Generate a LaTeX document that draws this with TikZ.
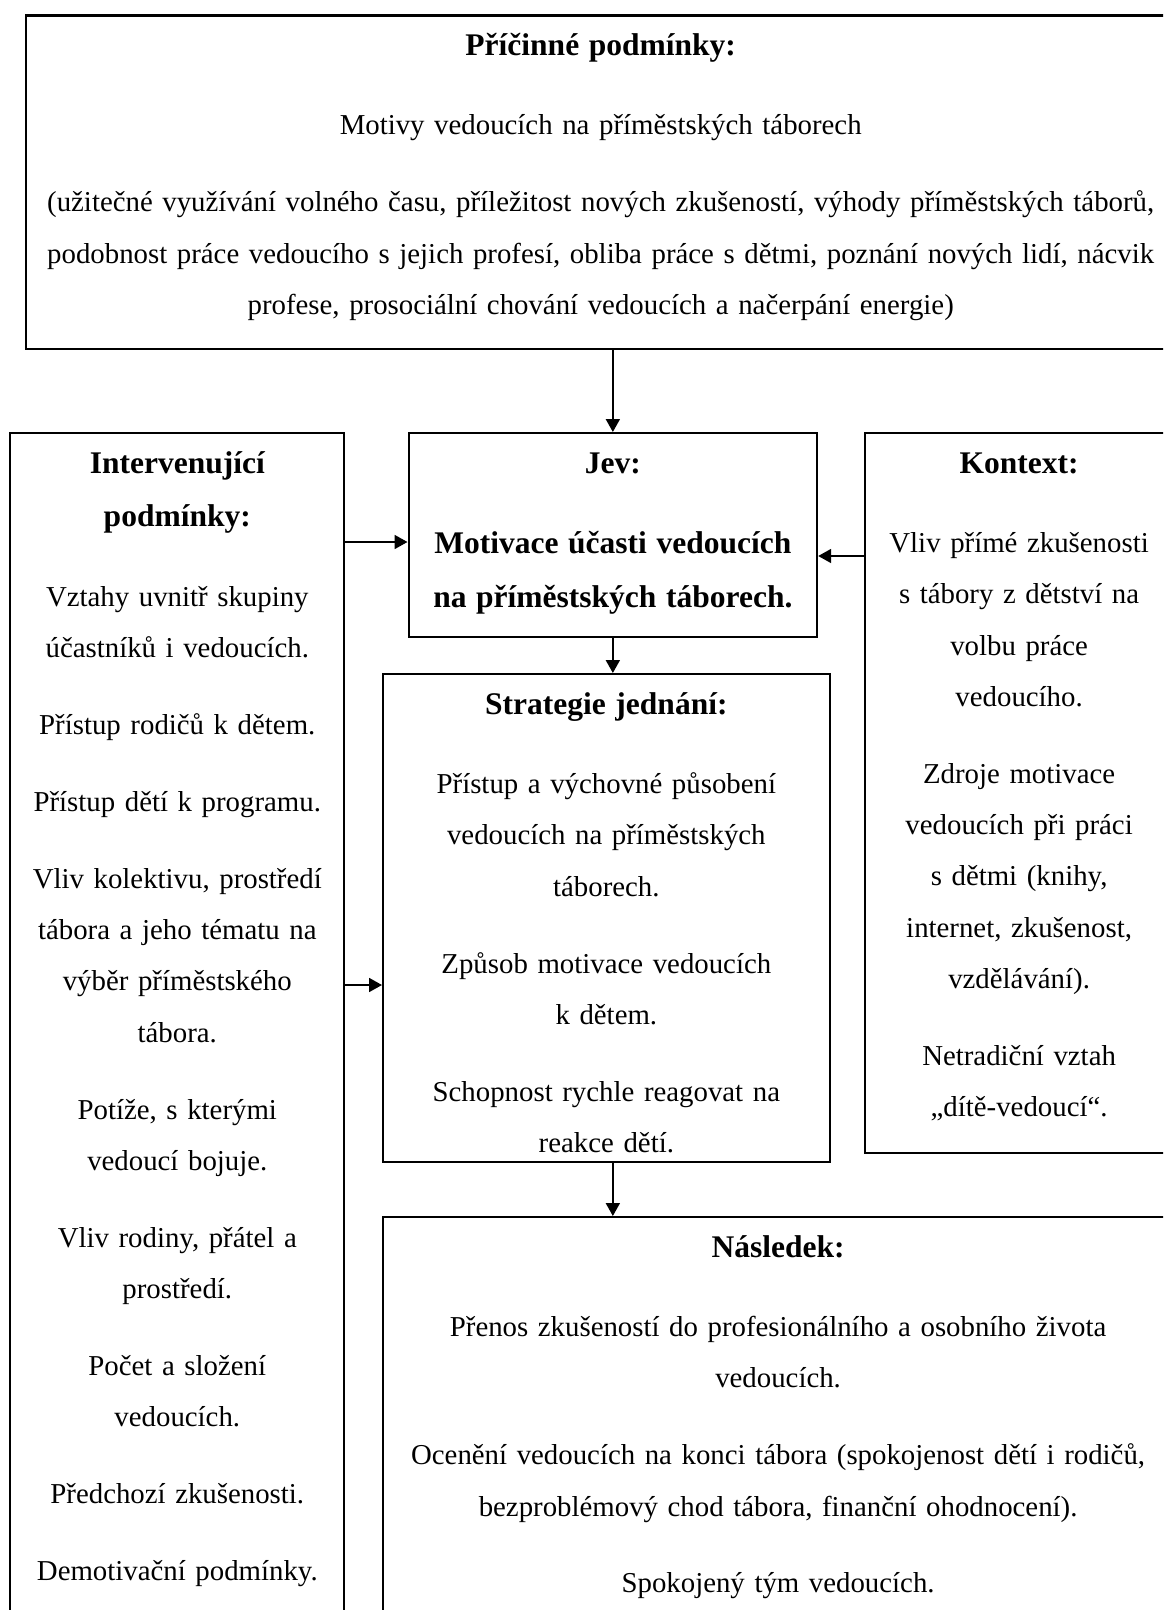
\documentclass[tikz,border=0pt]{standalone}
\usepackage{fontspec}
\setmainfont{Liberation Serif}
\usetikzlibrary{arrows.meta}
\newlength{\px}
\setlength{\px}{0.4094pt}
\newcommand{\nadpis}[1]{{\fontsize{12.9pt}{21pt}\selectfont\bfseries #1}}

\begin{document}
\begin{tikzpicture}[x=0.4094pt, y=-0.4094pt,
	box/.style={draw, line width=0.9pt, anchor=north west, inner sep=0pt, align=center, font=\fontsize{11.8pt}{21pt}\selectfont, text height=40\px},
	>={Triangle[length=5.3pt, width=5.7pt]}]
	\useasboundingbox (0,0) rectangle (1163,1610);
	\clip (0,0) rectangle (1163,1610);

	\node [box, text width=1150\px, text depth=293.6\px] (pricina) at (24.6,14.4) {\nadpis{Příčinné podmínky:}\\[11.5pt]
		Motivy vedoucích na příměstských táborech\\[10.5pt]
		(užitečné využívání volného času, příležitost nových zkušeností, výhody příměstských táborů,\\
		podobnost práce vedoucího s jejich profesí, obliba práce s dětmi, poznání nových lidí, nácvik\\
		profese, prosociální chování vedoucích a načerpání energie)};

	\node [box, text width=334\px, text depth=1180\px] (interv) at (9.2,432) {\nadpis{Intervenující}\\[1pt]
		\nadpis{podmínky:}\\[11.5pt]
		Vztahy uvnitř skupiny\\ účastníků i vedoucích.\\[10.5pt]
		Přístup rodičů k dětem.\\[10.5pt]
		Přístup dětí k programu.\\[10.5pt]
		Vliv kolektivu, prostředí\\ tábora a jeho tématu na\\ výběr příměstského\\ tábora.\\[10.5pt]
		Potíže, s kterými\\ vedoucí bojuje.\\[10.5pt]
		Vliv rodiny, přátel a\\ prostředí.\\[10.5pt]
		Počet a složení\\ vedoucích.\\[10.5pt]
		Předchozí zkušenosti.\\[10.5pt]
		Demotivační podmínky.};

	\node [box, text width=408.5\px, text depth=164\px] (jev) at (407.5,432) {\nadpis{Jev:}\\[12pt]
		\nadpis{Motivace účasti vedoucích}\\[1pt]
		\nadpis{na příměstských táborech.}};

	\node [box, text width=308\px, text depth=680\px] (kontext) at (864,432) {\nadpis{Kontext:}\\[11.5pt]
		Vliv přímé zkušenosti\\ s tábory z dětství na\\ volbu práce\\ vedoucího.\\[10.5pt]
		Zdroje motivace\\ vedoucích při práci\\ s dětmi (knihy,\\ internet, zkušenost,\\ vzdělávání).\\[10.5pt]
		Netradiční vztah\\ „dítě-vedoucí“.};

	\node [box, text width=446.5\px, text depth=448\px] (strategie) at (382,673) {\nadpis{Strategie jednání:}\\[11.5pt]
		Přístup a výchovné působení\\ vedoucích na příměstských\\ táborech.\\[10.5pt]
		Způsob motivace vedoucích\\ k dětem.\\[10.5pt]
		Schopnost rychle reagovat na\\ reakce dětí.};

	\node [box, text width=790\px, text depth=400\px] (nasledek) at (382,1216) {\nadpis{Následek:}\\[11.5pt]
		Přenos zkušeností do profesionálního a osobního života\\ vedoucích.\\[10.5pt]
		Ocenění vedoucích na konci tábora (spokojenost dětí i rodičů,\\ bezproblémový chod tábora, finanční ohodnocení).\\[10.5pt]
		Spokojený tým vedoucích.};

	\begin{scope}[->, line width=0.8pt]
		\draw (pricina.south -| jev.north) to (jev.north);
		\draw (interv.east |- 0,542) to (jev.west |- 0,542);
		\draw (kontext.west |- 0,556) to (jev.east |- 0,556);
		\draw (jev.south) to (jev.south |- strategie.north);
		\draw (interv.east |- 0,985) to (strategie.west |- 0,985);
		\draw (strategie.south -| jev.south) to (nasledek.north -| jev.south);
	\end{scope}
\end{tikzpicture}
\end{document}
